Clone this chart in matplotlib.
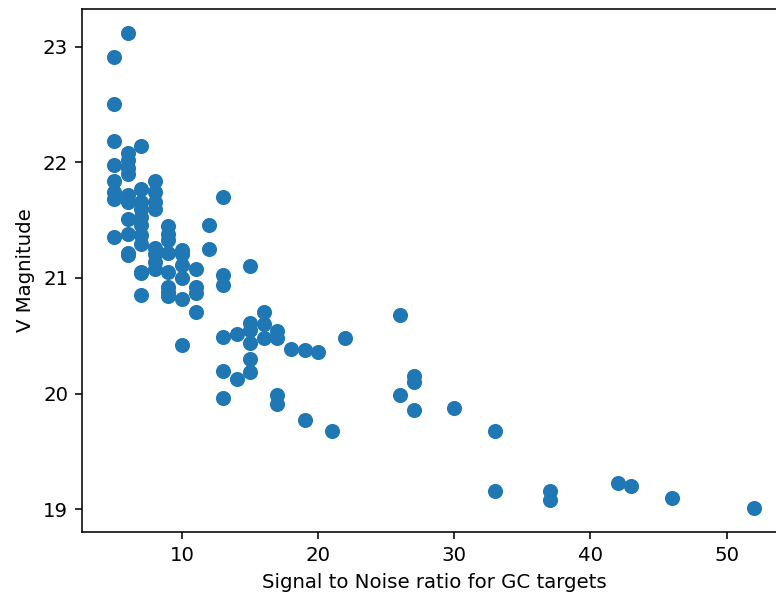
import matplotlib.pyplot as plt

# signal to noise of each GC target and its V magnitude
snr = [5, 5, 5, 5, 5, 5, 5, 5,
       6, 6, 6, 6, 6, 6, 6, 6, 6, 6, 6,
       7, 7, 7, 7, 7, 7, 7, 7, 7, 7, 7,
       8, 8, 8, 8, 8, 8, 8, 8,
       9, 9, 9, 9, 9, 9, 9, 9,
       10, 10, 10, 10, 10, 10,
       11, 11, 11, 11,
       12, 12,
       13, 13, 13, 13, 13, 13,
       14, 14,
       15, 15, 15, 15, 15, 15,
       16, 16, 16,
       17, 17, 17, 17,
       18, 19, 19, 20, 21, 22,
       26, 26, 27, 27, 27, 30, 33, 33, 37, 37, 42, 43, 46, 52]
vmag = [22.91, 22.50, 22.18, 21.98, 21.84, 21.74, 21.68, 21.35,
        23.12, 22.08, 22.02, 21.95, 21.90, 21.72, 21.66, 21.51, 21.38, 21.22, 21.20,
        22.14, 21.77, 21.66, 21.60, 21.53, 21.46, 21.37, 21.29, 21.05, 21.04, 20.85,
        21.84, 21.74, 21.66, 21.60, 21.26, 21.21, 21.14, 21.08,
        21.45, 21.38, 21.33, 21.22, 21.05, 20.92, 20.88, 20.84,
        21.24, 21.21, 21.11, 21.00, 20.82, 20.42,
        21.08, 20.92, 20.87, 20.71,
        21.46, 21.25,
        21.70, 21.03, 20.94, 20.49, 20.20, 19.96,
        20.52, 20.13,
        21.10, 20.61, 20.55, 20.44, 20.30, 20.19,
        20.71, 20.60, 20.48,
        20.54, 20.48, 19.99, 19.91,
        20.39, 20.38, 19.77, 20.36, 19.68, 20.48,
        20.68, 19.99, 20.15, 20.10, 19.86, 19.88, 19.68, 19.16, 19.16, 19.08,
        19.23, 19.20, 19.10, 19.01]

dpi = 142
fig = plt.figure(figsize=(776 / dpi, 593 / dpi), dpi=dpi)
ax = fig.add_axes([0.1057, 0.1029, 0.907, 0.882])
ax.scatter(snr, vmag, s=44)
ax.set_xlabel('Signal to Noise ratio for GC targets')
ax.set_ylabel('V Magnitude')

fig.savefig('out.png', dpi=dpi)
